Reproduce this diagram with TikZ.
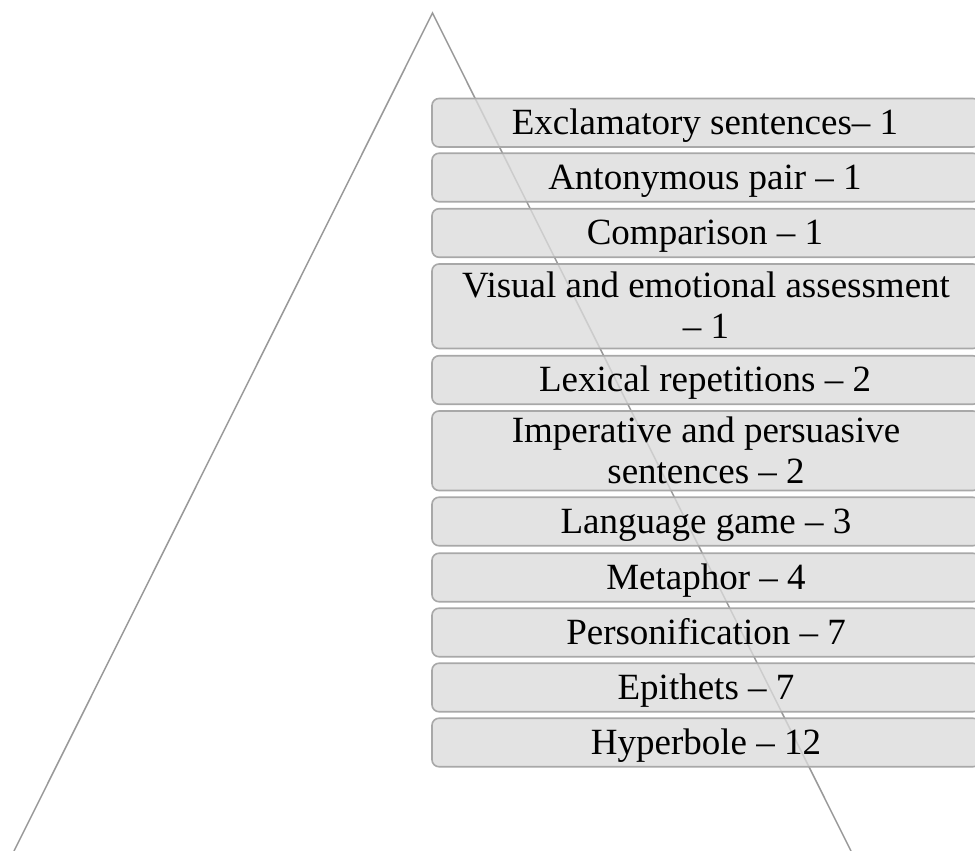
\documentclass[tikz,border=0pt]{standalone}
\usepackage{fontspec}
\setmainfont{Liberation Serif}
\definecolor{linegray}{HTML}{999999}
\definecolor{boxfill}{HTML}{DBDBDB}
\definecolor{boxdraw}{HTML}{A8A8A8}
\tikzset{
  tri/.style={draw=linegray, line width=1.5pt},
  barbox/.style={draw=boxdraw, line width=1.6pt, fill=boxfill, fill opacity=0.78, draw opacity=1,
    rounded corners=7pt, inner sep=0pt, minimum width=548pt, outer sep=0pt},
  lbl/.style={anchor=base, inner sep=0pt, font=\fontsize{37}{41}\selectfont, text=black}
}
\begin{document}
\begin{tikzpicture}[x=1pt,y=-1pt]
\useasboundingbox (0,0) rectangle (975,851);
\clip (0,0) rectangle (975,851);
\coordinate (apex) at (432.5,13);
\coordinate (bl) at (14,851);
\coordinate (br) at (851,851);
\draw[tri] (bl) -- (apex) -- (br);
% boxes: center x = 706
\node[barbox, minimum height=48.5pt] (b1) at (706,122.75) {};
\node[barbox, minimum height=48.5pt] (b2) at (706,177.5) {};
\node[barbox, minimum height=48.5pt] (b3) at (706,233) {};
\node[barbox, minimum height=84.5pt] (b4) at (706,306.25) {};
\node[barbox, minimum height=48.5pt] (b5) at (706,380) {};
\node[barbox, minimum height=79.5pt] (b6) at (706,450.75) {};
\node[barbox, minimum height=48.5pt] (b7) at (706,521.5) {};
\node[barbox, minimum height=48.5pt] (b8) at (706,577.5) {};
\node[barbox, minimum height=48.5pt] (b9) at (706,632.5) {};
\node[barbox, minimum height=48.5pt] (b10) at (706,687.5) {};
\node[barbox, minimum height=48.5pt] (b11) at (706,742.5) {};
% labels
\node[lbl] (t1) at (705,134.3) {Exclamatory sentences– 1};
\node[lbl] (t2) at (705,189) {Antonymous pair – 1};
\node[lbl] (t3) at (705,244.5) {Comparison – 1};
\node[lbl] (t4a) at (706,297) {Visual and emotional assessment};
\node[lbl] (t4b) at (706,338) {– 1};
\node[lbl] (t5) at (705,391.5) {Lexical repetitions – 2};
\node[lbl] (t6a) at (706,442) {Imperative and persuasive};
\node[lbl] (t6b) at (706,483) {sentences – 2};
\node[lbl] (t7) at (706,533) {Language game – 3};
\node[lbl] (t8) at (706,589) {Metaphor – 4};
\node[lbl] (t9) at (706,644) {Personification – 7};
\node[lbl] (t10) at (706,699) {Epithets – 7};
\node[lbl] (t11) at (706,754) {Hyperbole – 12};
\end{tikzpicture}
\end{document}
